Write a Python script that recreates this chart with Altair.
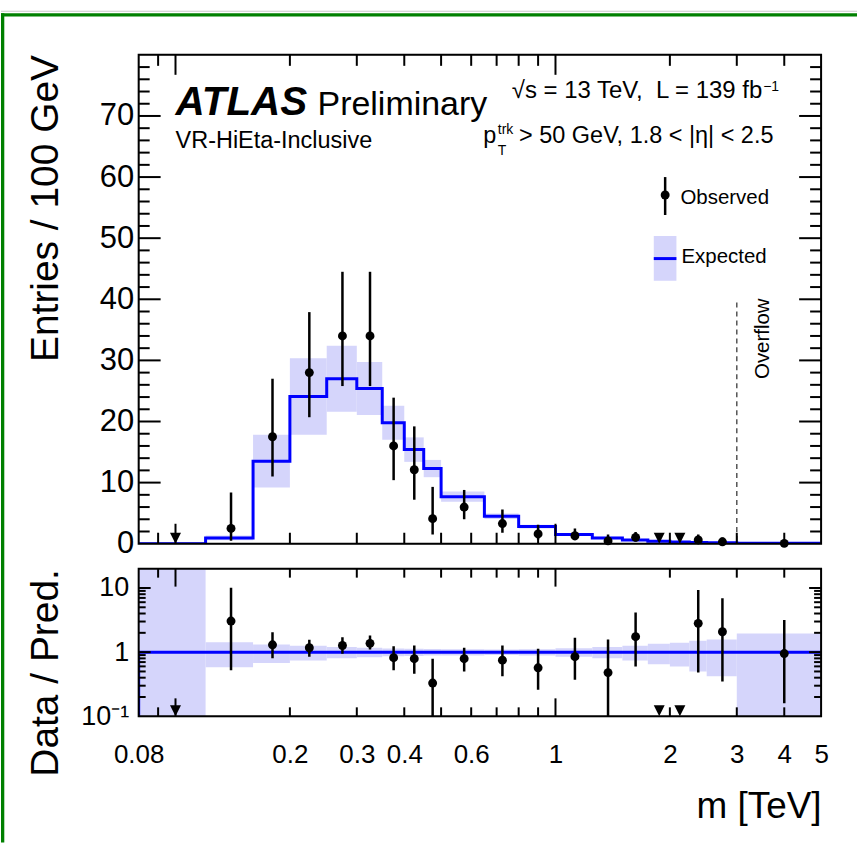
import altair as alt
import pandas as pd

FONT = "Liberation Sans"
BLUE = "#0000ff"
BAND = "#d5d5fb"
GREEN = "#008000"

# ---------------- data ----------------
edges = [0.08, 0.12, 0.16, 0.2, 0.25, 0.3, 0.35, 0.4, 0.45, 0.5, 0.65,
         0.8, 1.0, 1.25, 1.5, 1.75, 2.0, 2.25, 2.5, 3.0, 5.0]
expected = [0.005, 0.95, 13.5, 24.1, 27.0, 25.4, 19.8, 15.4, 12.3, 7.7,
            4.5, 2.8, 1.5, 0.95, 0.6, 0.4, 0.3, 0.22, 0.15, 0.06]
exp_rel = [50.0, 0.42, 0.32, 0.26, 0.20, 0.17, 0.14, 0.13, 0.115, 0.11,
           0.10, 0.11, 0.15, 0.20, 0.26, 0.35, 0.40, 0.50, 0.58, 0.95]
observed = [0, 2.5, 17.5, 28.0, 34.0, 34.0, 16.0, 12.1, 4.1, 6.0,
            3.3, 1.6, 1.3, 0.46, 1.04, 0, 0, 0.62, 0.31, 0.057]
obs_hi = [0, 8.4, 27.0, 37.9, 44.5, 44.5, 23.9, 19.2, 9.3, 8.8,
          5.6, 3.1, 2.5, 1.5, 1.9, 0, 0, 1.5, 1.0, 0.2]
obs_lo = [0, 0.5, 11.0, 20.7, 25.8, 25.8, 10.4, 7.2, 1.5, 4.0,
          1.8, 0.7, 0.55, 0.05, 0.35, 0, 0, 0.1, 0.1, 0.01]
ratio = [0, 3.05, 1.30, 1.17, 1.27, 1.37, 0.82, 0.79, 0.33, 0.79,
         0.75, 0.57, 0.85, 0.48, 1.74, 0, 0, 2.81, 2.08, 0.95]
ratio_hi = [0, 10.1, 2.05, 1.56, 1.71, 1.82, 1.24, 1.27, 0.79, 1.17,
            1.27, 1.13, 1.68, 1.58, 4.13, 0, 0, 9.3, 6.9, 3.16]
ratio_lo = [0, 0.52, 0.80, 0.85, 0.94, 1.10, 0.52, 0.46, 0.05, 0.50,
            0.42, 0.26, 0.37, 0.05, 0.60, 0, 0, 0.48, 0.35, 0.16]

x_label_values = [0.08, 0.2, 0.3, 0.4, 0.6, 1, 2, 3, 4, 5]
x_major_ticks = [0.1, 1]
x_minor_ticks = [0.09, 0.2, 0.3, 0.4, 0.5, 0.6, 0.7, 0.8, 0.9, 2, 3, 4]
y_label_values = [0, 10, 20, 30, 40, 50, 60, 70]
y_major_ticks = [10, 20, 30, 40, 50, 60, 70]
y_minor_ticks = [v for v in range(2, 80, 2) if v % 10]
r_label_values = [0.1, 1, 10]
r_major_ticks = [1, 10]
r_minor_ticks = [0.2, 0.3, 0.4, 0.5, 0.6, 0.7, 0.8, 0.9, 2, 3, 4, 5, 6, 7, 8, 9]

X_DOMAIN = [0.08, 5]
Y_DOMAIN = [0, 80]
R_DOMAIN = [0.1, 20]

# ---------------- layout constants ----------------
W, H1, H2 = 684, 490, 148
OX, OY = 138, 53.5      # top-left of upper plot in the page
PW, PH = 858, 843       # page extent drawn

bins = pd.DataFrame({
    "lo": edges[:-1], "hi": edges[1:], "exp": expected, "rel": exp_rel,
    "obs": observed, "obs_hi": obs_hi, "obs_lo": obs_lo,
    "ratio": ratio, "r_hi": ratio_hi, "r_lo": ratio_lo,
})
bins["x"] = (bins["lo"] + bins["hi"]) / 2
bins["band_lo"] = (bins["exp"] * (1 - bins["rel"])).clip(lower=0)
bins["band_hi"] = bins["exp"] * (1 + bins["rel"])
bins["rband_lo"] = (1 - bins["rel"]).clip(lower=0.01)
bins["rband_hi"] = 1 + bins["rel"]
obs_pts = bins[bins["obs"] > 0]
zero_pts = bins[bins["obs"] == 0]

step = pd.DataFrame({"x": edges, "y": expected + [expected[-1]]})
rline = pd.DataFrame({"x": [edges[0], edges[0], edges[-1]],
                      "y": [R_DOMAIN[0], 1.0, 1.0], "o": [0, 1, 2]})
one = pd.DataFrame({"a": [0]})

xs = alt.Scale(type="log", domain=X_DOMAIN)
ys = alt.Scale(domain=Y_DOMAIN, nice=False, zero=False)
rs = alt.Scale(type="log", domain=R_DOMAIN, nice=False)

y_axis_top = alt.Axis(
    values=y_label_values, ticks=False, tickSize=0, domain=False, grid=False,
    labelFont=FONT, labelFontSize=31, labelColor="black", labelPadding=5,
    labelFlush=False, labelOverlap=False, labelBaseline="middle",
    title="Entries / 100 GeV", titleFont=FONT, titleFontSize=39,
    titleFontWeight="normal", titleColor="black", titleAngle=270,
    titleX=-81.5, titleY=153.5, titleAlign="center", titleBaseline="alphabetic",
    zindex=1)
r_axis = alt.Axis(
    values=r_label_values, format="~g",
    labelExpr="datum.value < 0.5 ? '10\u207b\u00b9' : datum.label",
    ticks=False, tickSize=0, domain=False, grid=False,
    labelFont=FONT, labelFontSize=27, labelColor="black", labelPadding=10,
    labelFlush=False, labelOverlap=False, labelBaseline="middle",
    title="Data / Pred.", titleFont=FONT, titleFontSize=39,
    titleFontWeight="normal", titleColor="black", titleAngle=270,
    titleX=-81.5, titleY=104, titleAlign="center", titleBaseline="alphabetic",
    zindex=1)
x_axis_bot = alt.Axis(
    values=x_label_values, format="~g", ticks=False, tickSize=0, domain=False,
    grid=False, labelFont=FONT, labelFontSize=26, labelColor="black",
    labelPadding=46, labelBaseline="alphabetic", labelFlush=False,
    labelOverlap=False, title="m [TeV]", titleFont=FONT, titleFontSize=37,
    titleFontWeight="normal", titleColor="black", titleX=W, titleY=101.8,
    titleAlign="right", titleBaseline="alphabetic", titleAnchor="end", zindex=1)


def XT(f):
    return alt.X(f, type="quantitative", scale=xs, axis=None)


def XB(f):
    return alt.X(f, type="quantitative", scale=xs, axis=x_axis_bot)


def YT(f):
    return alt.Y(f, type="quantitative", scale=ys, axis=y_axis_top)


def YR(f):
    return alt.Y(f, type="quantitative", scale=rs, axis=r_axis)


def text(t, x, y, size, weight="normal", style="normal", angle=0, align="left"):
    return alt.Chart(one).mark_text(
        text=t, font=FONT, fontSize=size, fontWeight=weight, fontStyle=style,
        angle=angle, align=align, baseline="alphabetic", color="black"
    ).encode(x=alt.value(x), y=alt.value(y))


def prect(x1, x2, y1, y2, color, **kw):
    return alt.Chart(one).mark_rect(color=color, **kw).encode(
        x=alt.value(x1), x2=alt.value(x2), y=alt.value(y1), y2=alt.value(y2))


def xticks(X, vals, length, H):
    df = pd.DataFrame({"v": vals})
    base = alt.Chart(df).mark_rule(color="black", strokeWidth=2)
    return [base.encode(x=X("v"), y=alt.value(H), y2=alt.value(H - length)),
            base.encode(x=X("v"), y=alt.value(0), y2=alt.value(length))]


def yticks(Y, vals, length):
    df = pd.DataFrame({"v": vals})
    base = alt.Chart(df).mark_rule(color="black", strokeWidth=2)
    return [base.encode(y=Y("v"), x=alt.value(0), x2=alt.value(length)),
            base.encode(y=Y("v"), x=alt.value(W - length), x2=alt.value(W))]


NB = "\u00a0"

# ---------------- upper panel ----------------
top_layers = [
    # page extent (invisible) + page frame decoration
    prect(-OX, PW - OX, -OY, PH - OY, "white", fillOpacity=0, strokeOpacity=0),
    prect(-OX, PW - OX, 9.2 - OY, 10.3 - OY, "#c8c8c8"),
    prect(-OX, PW - OX, 11.7 - OY, 15 - OY, GREEN),
    prect(-OX, 3.3 - OX, 11.7 - OY, PH - OY, GREEN),
    alt.Chart(bins).mark_rect(color=BAND, clip=True).encode(
        x=XT("lo"), x2="hi", y=YT("band_lo"), y2="band_hi"),
    alt.Chart(step).mark_line(interpolate="step-after", color=BLUE,
                              strokeWidth=3, clip=True).encode(
        x=XT("x"), y=YT("y")),
    alt.Chart(pd.DataFrame({"v": [edges[-2]]})).mark_rule(
        color="#555555", strokeWidth=1.5, strokeDash=[5, 4]).encode(
        x=XT("v"), y=alt.value(248.2), y2=alt.value(H1)),
    alt.Chart(obs_pts).mark_rule(color="black", strokeWidth=2.5, clip=True).encode(
        x=XT("x"), y=YT("obs_lo"), y2="obs_hi"),
    alt.Chart(obs_pts).mark_point(shape="circle", filled=True, size=80,
                                  opacity=1, color="black").encode(
        x=XT("x"), y=YT("obs")),
    alt.Chart(zero_pts).mark_point(shape="M-1,-1L1,-1L0,1Z", filled=True,
                                   size=121, opacity=1, color="black").encode(
        x=XT("x"), y=alt.value(H1 - 5.5)),
]
top_layers += xticks(XT, x_major_ticks, 20, H1)
top_layers += xticks(XT, x_minor_ticks, 11, H1)
top_layers += yticks(YT, y_major_ticks, 22)
top_layers += yticks(YT, y_minor_ticks, 11)
top_layers += [
    prect(0, W, 0, H1, "black", fillOpacity=0, stroke="black", strokeWidth=2),
    text("ATLAS", 37, 59.8, 40.5, weight="bold", style="italic"),
    text("Preliminary", 179.3, 59.8, 34),
    text("VR-HiEta-Inclusive", 37, 93.2, 23.5),
    text("\u221as = 13 TeV," + NB + NB + "L = 139 fb", 374, 43.2, 24),
    text("\u22121", 626, 36.0, 14),
    text("p", 345.3, 88.2, 23.5),
    text("T", 360, 100.5, 14),
    text("trk", 360, 79.5, 14),
    text("> 50 GeV, 1.8 < |\u03b7| < 2.5", 381.3, 88.2, 23.5),
    # legend
    alt.Chart(one).mark_rule(color="black", strokeWidth=2.5).encode(
        x=alt.value(527.7), y=alt.value(122.5), y2=alt.value(160.5)),
    alt.Chart(one).mark_circle(size=80, opacity=1, color="black").encode(
        x=alt.value(527.7), y=alt.value(140.5)),
    text("Observed", 543, 149.8, 20.5),
    prect(516.3, 539, 181.5, 226.5, BAND),
    alt.Chart(one).mark_rule(color=BLUE, strokeWidth=3).encode(
        x=alt.value(516.3), x2=alt.value(539), y=alt.value(204.2)),
    text("Expected", 544, 208.8, 20.5),
    text("Overflow", 632, 284.5, 20.5, angle=270, align="center"),
]
top = alt.layer(*top_layers).properties(width=W, height=H1)

# ---------------- ratio panel ----------------
bot_layers = [
    alt.Chart(bins).mark_rect(color=BAND, clip=True).encode(
        x=XB("lo"), x2="hi", y=YR("rband_lo"), y2="rband_hi"),
    alt.Chart(rline).mark_line(color=BLUE, strokeWidth=3, clip=True).encode(
        x=XB("x"), y=YR("y"), order="o:Q"),
    alt.Chart(obs_pts).mark_rule(color="black", strokeWidth=2.5, clip=True).encode(
        x=XB("x"), y=YR("r_lo"), y2="r_hi"),
    alt.Chart(obs_pts).mark_point(shape="circle", filled=True, size=80,
                                  opacity=1, color="black").encode(
        x=XB("x"), y=YR("ratio")),
    alt.Chart(zero_pts).mark_point(shape="M-1,-1L1,-1L0,1Z", filled=True,
                                   size=121, opacity=1, color="black").encode(
        x=XB("x"), y=alt.value(H2 - 5.5)),
]
bot_layers += xticks(XB, x_major_ticks, 18, H2)
bot_layers += xticks(XB, x_minor_ticks, 9, H2)
bot_layers += yticks(YR, r_major_ticks, 12)
bot_layers += yticks(YR, r_minor_ticks, 7)
bot_layers += [prect(0, W, 0, H2, "black", fillOpacity=0, stroke="black",
                     strokeWidth=2)]
bottom = alt.layer(*bot_layers).properties(width=W, height=H2)

chart = alt.vconcat(top, bottom, spacing=25).properties(
    padding=0, bounds="flush", background="white"
).configure_view(stroke=None).configure(font=FONT)

chart.save("out.html", embed_options={"renderer": "svg", "actions": False})
